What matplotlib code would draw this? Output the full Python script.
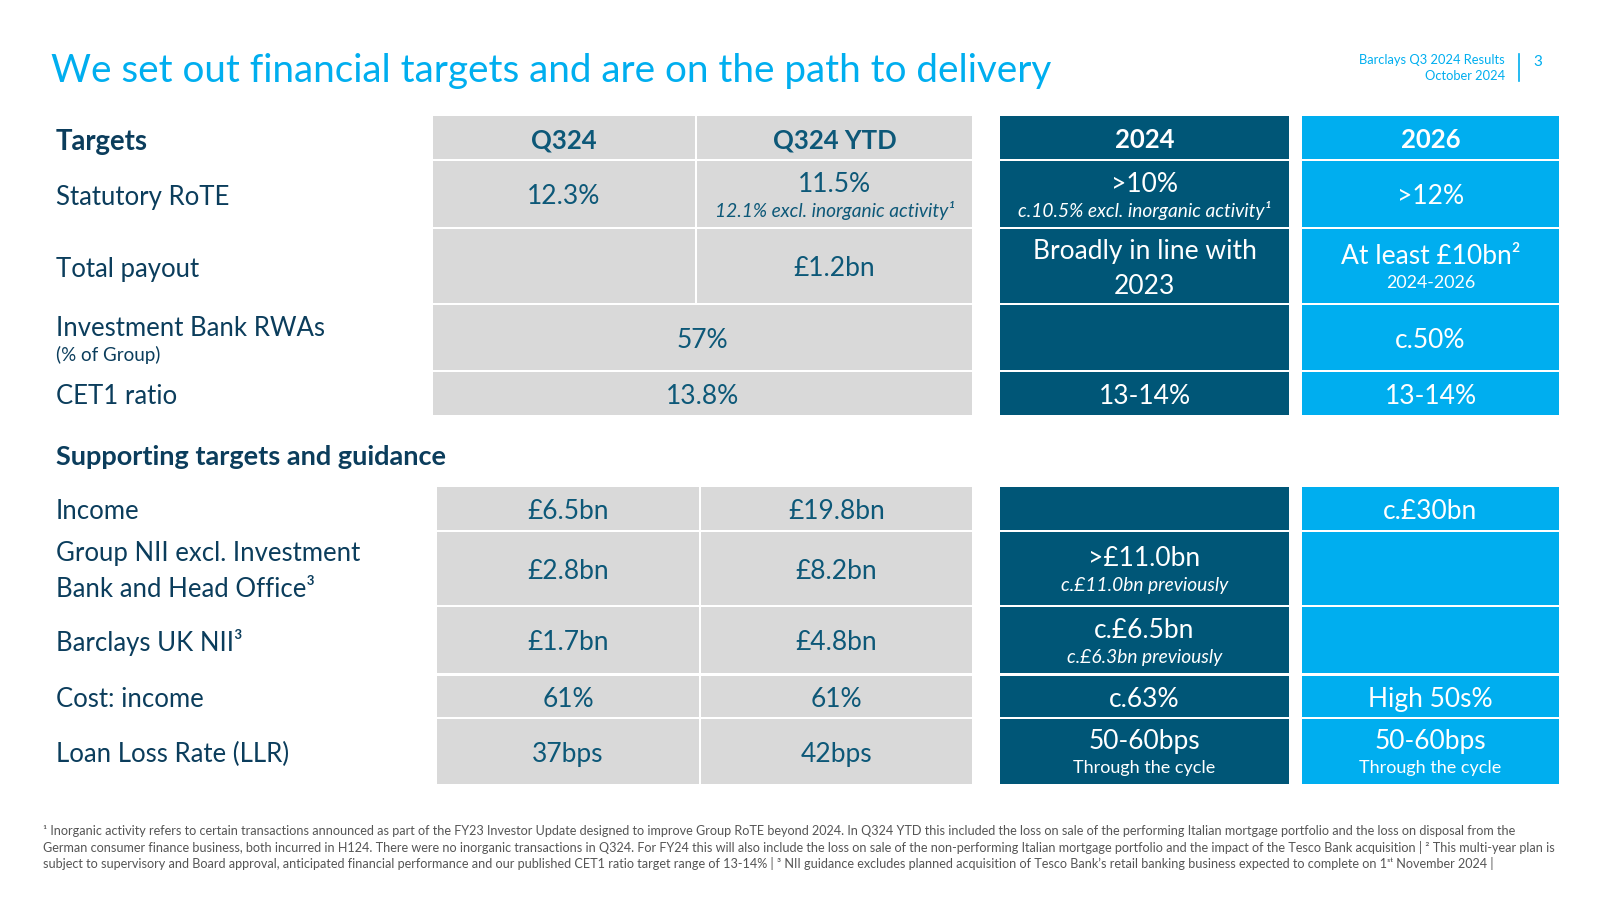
"""Barclays Q3 2024 results - financial targets slide, redrawn as a table figure."""

import matplotlib
matplotlib.use("Agg")
import matplotlib.pyplot as plt
from matplotlib.patches import Rectangle

plt.rcParams["font.family"] = ["Lato", "DejaVu Sans"]

# ── Data ──────────────────────────────────────────────────────────────────────
TITLE = "We set out financial targets and are on the path to delivery"
HEADERS = ["Q324", "Q324 YTD", "2024", "2026"]

TARGET_LABELS = ["Statutory RoTE", "Total payout", "Investment Bank RWAs", "CET1 ratio"]
TARGET_NOTES = ["", "", "(% of Group)", ""]
# (main, sub) per cell; None = merged with the Q324 cell
TARGET_Q324 = [("12.3%", ""), ("", ""), ("57%", ""), ("13.8%", "")]
TARGET_YTD = [("11.5%", "12.1% excl. inorganic activity¹"), ("£1.2bn", ""), None, None]
TARGET_2024 = [(">10%", "c.10.5% excl. inorganic activity¹"),
               ("Broadly in line with\n2023", ""), ("", ""), ("13-14%", "")]
TARGET_2026 = [(">12%", ""), ("At least £10bn²", "2024-2026"), ("c.50%", ""), ("13-14%", "")]

SUPPORT_LABELS = ["Income", "Group NII excl. Investment\nBank and Head Office³",
                  "Barclays UK NII³", "Cost: income", "Loan Loss Rate (LLR)"]
SUPPORT_Q324 = ["£6.5bn", "£2.8bn", "£1.7bn", "61%", "37bps"]
SUPPORT_YTD = ["£19.8bn", "£8.2bn", "£4.8bn", "61%", "42bps"]
SUPPORT_2024 = [("", ""), (">£11.0bn", "c.£11.0bn previously"),
                ("c.£6.5bn", "c.£6.3bn previously"), ("c.63%", ""),
                ("50-60bps", "Through the cycle")]
SUPPORT_2026 = [("c.£30bn", ""), ("", ""), ("", ""), ("High 50s%", ""),
                ("50-60bps", "Through the cycle")]

FOOTNOTES = [
    "¹ Inorganic activity refers to certain transactions announced as part of the FY23 Investor Update designed to improve Group RoTE beyond 2024. In Q324 YTD this included the loss on sale of the performing Italian mortgage portfolio and the loss on disposal from the",
    "German consumer finance business, both incurred in H124. There were no inorganic transactions in Q324. For FY24 this will also include the loss on sale of the non-performing Italian mortgage portfolio and the impact of the Tesco Bank acquisition | ² This multi-year plan is",
    "subject to supervisory and Board approval, anticipated financial performance and our published CET1 ratio target range of 13-14% | ³ NII guidance excludes planned acquisition of Tesco Bank’s retail banking business expected to complete on 1ˢᵗ November 2024 |",
]

# ── Style / layout ────────────────────────────────────────────────────────────
CYAN = "#00AEEF"
DARK = "#005677"
GREY = "#D9D9D9"
NAVY = "#0B3D5C"
TEAL_TXT = "#0D5878"

TOP_COLS = [(433, 695), (697, 972), (1000, 1289), (1302, 1559)]
BOT_COLS = [(437, 699), (701, 972), (1000, 1289), (1302, 1559)]
HEAD_ROW = (116, 159)
TOP_ROWS = [(161, 227), (229, 303), (305, 370), (372, 415)]
BOT_ROWS = [(487, 530), (532, 605), (607, 673), (676, 717), (719, 784)]

FS_VAL = 19
FS_SUB = 13.8
FS_LABEL = 18.5
DY = 3          # optical baseline correction for va="center"


def cell(ax, x0, x1, y0, y1, colour):
    ax.add_patch(Rectangle((x0, y0), x1 - x0, y1 - y0, facecolor=colour,
                           edgecolor="none"))


def cell_text(ax, x0, x1, y0, y1, main, sub, colour, italic_sub=True, sub_fs=FS_SUB):
    xc = (x0 + x1) / 2
    yc = (y0 + y1) / 2
    if not main:
        return
    if "\n" in main:
        ax.text(xc, yc + DY, main, ha="center", va="center", fontsize=FS_VAL,
                color=colour, linespacing=1.55)
    elif sub:
        ax.text(xc, yc - 10, main, ha="center", va="center", fontsize=FS_VAL, color=colour)
        ax.text(xc, yc + 17, sub, ha="center", va="center", fontsize=sub_fs,
                color=colour, style="italic" if italic_sub else "normal")
    else:
        ax.text(xc, yc + DY, main, ha="center", va="center", fontsize=FS_VAL, color=colour)


def main() -> None:
    fig = plt.figure(figsize=(16, 9), dpi=100)
    ax = fig.add_axes([0, 0, 1, 1])
    ax.set_xlim(0, 1600)
    ax.set_ylim(900, 0)
    ax.axis("off")

    # ── Title and page marker ────────────────────────────────────────────────
    ax.text(51, 71, TITLE, ha="left", va="center", fontsize=27.8, color=CYAN)
    ax.text(1505, 60, "Barclays Q3 2024 Results", ha="right", va="center",
            fontsize=9.3, color=CYAN)
    ax.text(1505, 76, "October 2024", ha="right", va="center", fontsize=9.3, color=CYAN)
    ax.plot([1519, 1519], [54, 81], color=CYAN, lw=1.2)
    ax.text(1533, 62, "3", ha="left", va="center", fontsize=11, color=CYAN)

    # ── Targets block ─────────────────────────────────────────────────────────
    ax.text(56, 139 + DY, "Targets", ha="left", va="center", fontsize=19.8,
            fontweight="bold", color=NAVY)
    head_fill = [GREY, GREY, DARK, CYAN]
    head_txt = [TEAL_TXT, TEAL_TXT, "white", "white"]
    for (x0, x1), h, fc, tc in zip(TOP_COLS, HEADERS, head_fill, head_txt):
        cell(ax, x0, x1, *HEAD_ROW, fc)
        ax.text((x0 + x1) / 2, sum(HEAD_ROW) / 2 + DY, h, ha="center", va="center",
                fontsize=18.5, fontweight="bold", color=tc)

    for i, (y0, y1) in enumerate(TOP_ROWS):
        label = TARGET_LABELS[i]
        if TARGET_NOTES[i]:
            ax.text(56, y0 + 24, label, ha="left", va="center", fontsize=FS_LABEL,
                    color=NAVY)
            ax.text(56, y0 + 50, TARGET_NOTES[i], ha="left", va="center", fontsize=13.5,
                    color=NAVY)
        else:
            ax.text(56, (y0 + y1) / 2 + DY, label, ha="left", va="center",
                    fontsize=FS_LABEL, color=NAVY)

        (qx0, qx1), (yx0, yx1) = TOP_COLS[0], TOP_COLS[1]
        if TARGET_YTD[i] is None:
            cell(ax, qx0, yx1, y0, y1, GREY)
            cell_text(ax, qx0, yx1, y0, y1, *TARGET_Q324[i], TEAL_TXT)
        else:
            cell(ax, qx0, qx1, y0, y1, GREY)
            cell_text(ax, qx0, qx1, y0, y1, *TARGET_Q324[i], TEAL_TXT)
            cell(ax, yx0, yx1, y0, y1, GREY)
            cell_text(ax, yx0, yx1, y0, y1, *TARGET_YTD[i], TEAL_TXT)

        x0, x1 = TOP_COLS[2]
        cell(ax, x0, x1, y0, y1, DARK)
        cell_text(ax, x0, x1, y0, y1, *TARGET_2024[i], "white")
        x0, x1 = TOP_COLS[3]
        cell(ax, x0, x1, y0, y1, CYAN)
        cell_text(ax, x0, x1, y0, y1, *TARGET_2026[i], "white", italic_sub=False,
                  sub_fs=12.8)

    # ── Supporting targets block ──────────────────────────────────────────────
    ax.text(56, 454 + DY, "Supporting targets and guidance", ha="left", va="center",
            fontsize=19.5, fontweight="bold", color=NAVY)
    for i, (y0, y1) in enumerate(BOT_ROWS):
        ax.text(56, (y0 + y1) / 2 + DY, SUPPORT_LABELS[i], ha="left", va="center",
                fontsize=FS_LABEL, color=NAVY, linespacing=1.55)
        for (x0, x1), val in zip(BOT_COLS[:2], [SUPPORT_Q324[i], SUPPORT_YTD[i]]):
            cell(ax, x0, x1, y0, y1, GREY)
            cell_text(ax, x0, x1, y0, y1, val, "", TEAL_TXT)
        x0, x1 = BOT_COLS[2]
        cell(ax, x0, x1, y0, y1, DARK)
        main_, sub_ = SUPPORT_2024[i]
        plain = sub_ == "Through the cycle"
        cell_text(ax, x0, x1, y0, y1, main_, sub_, "white", italic_sub=not plain,
                  sub_fs=13 if plain else FS_SUB)
        x0, x1 = BOT_COLS[3]
        cell(ax, x0, x1, y0, y1, CYAN)
        cell_text(ax, x0, x1, y0, y1, *SUPPORT_2026[i], "white", italic_sub=False,
                  sub_fs=13)

    # ── Footnotes ─────────────────────────────────────────────────────────────
    for k, line in enumerate(FOOTNOTES):
        ax.text(43, 831 + 16 * k, line, ha="left", va="center", fontsize=9.1,
                color="#555555")

    fig.savefig("out.png", dpi=100)
    plt.close(fig)


if __name__ == "__main__":
    main()
